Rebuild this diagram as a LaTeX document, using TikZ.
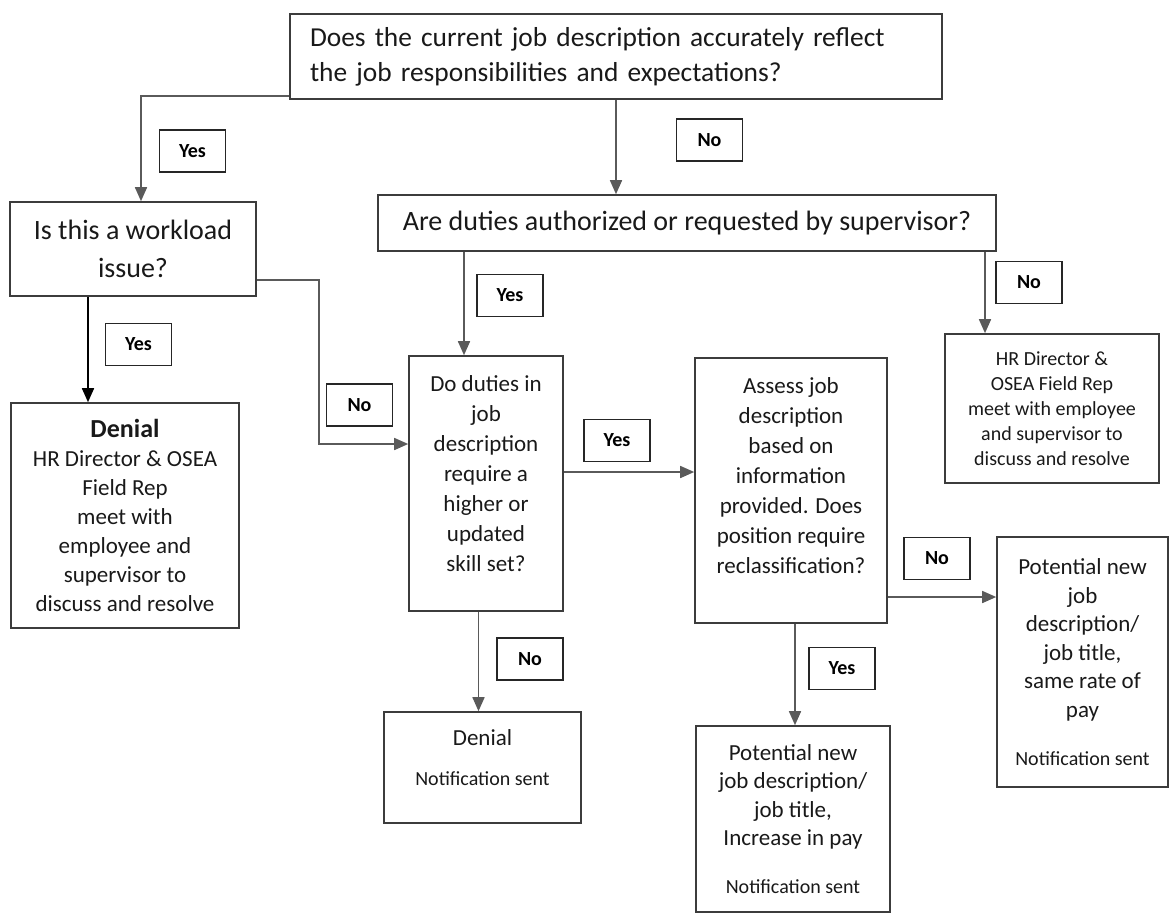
\documentclass[tikz,border=0pt]{standalone}
\usepackage{fontspec}
\setmainfont{Carlito}
\usetikzlibrary{arrows.meta}
\definecolor{framegray}{HTML}{3C3C3C}
\definecolor{wiregray}{HTML}{5A5A5A}

\begin{document}
\begin{tikzpicture}[
  x=0.5pt,y=-0.5pt,
  box/.style={draw=framegray,line width=0.8pt,align=center,inner sep=2pt,text=black!90},
  tag/.style={draw=black!85,line width=0.7pt,minimum width=33pt,minimum height=21pt,inner sep=0pt,font=\fontsize{10}{12}\selectfont\bfseries},
  arrow/.style={draw=wiregray,line width=0.8pt,-{Triangle[length=7pt,width=6pt]}},
  bigtext/.style={font=\fontsize{14}{17.5}\selectfont},
  midtext/.style={font=\fontsize{11.5}{15}\selectfont},
  smalltext/.style={font=\fontsize{10}{12.5}\selectfont}
]
\useasboundingbox (0,0) rectangle (1173,917);

% questions
\node[box,font=\fontsize{13.7}{17.5}\selectfont,align=left,text width=306pt,inner xsep=10pt,minimum height=42.5pt] (q1) at (616,56.5) {Does the current job description accurately reflect\\the job responsibilities and expectations?};
\node[box,bigtext,minimum width=309pt,minimum height=28pt] (q2) at (687,223) {Are duties authorized or requested by supervisor?};
\node[box,font=\fontsize{14}{19}\selectfont,minimum width=123pt,minimum height=47pt] (q3) at (133,249) {Is this a workload\\issue?};
\node[box,font=\fontsize{11.5}{14.5}\selectfont,minimum width=114pt,minimum height=112.5pt] (q4) at (125,515.5) {{\fontsize{13}{15}\selectfont\bfseries Denial}\\HR Director \& OSEA\\Field Rep\\meet with\\employee and\\supervisor to\\discuss and resolve};
\node[box,smalltext,minimum width=107pt,minimum height=74.5pt] (q5) at (1052,408.5) {HR Director \&\\OSEA Field Rep\\meet with employee\\and supervisor to\\discuss and resolve};
\node[box,midtext,minimum width=77pt,minimum height=127.5pt] (q6) at (486,483.5) {Do duties in\\job\\description\\require a\\higher or\\updated\\skill set?\\[-5pt]\mbox{}};
\node[box,midtext,minimum width=96pt,minimum height=132.5pt] (q7) at (791,490.5) {Assess job\\description\\based on\\information\\provided. Does\\position require\\reclassification?\\ \mbox{}};

% outcomes
\node[box,font=\fontsize{11.5}{14.25}\selectfont,minimum width=85.5pt,minimum height=125pt] (q8) at (1082.5,662) {Potential new\\job\\description/\\job title,\\same rate of\\pay\\[9.75pt]{\fontsize{10}{12}\selectfont Notification sent}};
\node[box,font=\fontsize{10}{12}\selectfont,minimum width=98.5pt,minimum height=55.5pt] (q9) at (482.5,767.5) {{\fontsize{11.5}{14}\selectfont Denial}\\[8pt]Notification sent\\[-2.5pt]\mbox{}};
\node[box,font=\fontsize{11.5}{14.25}\selectfont,minimum width=97pt,minimum height=93pt] (q10) at (793,819) {Potential new\\job description/\\job title,\\Increase in pay\\[9.75pt]{\fontsize{10}{12}\selectfont Notification sent}};

% yes / no tags
\node[tag] (y1) at (192.5,151) {Yes};
\node[tag] (n1) at (709.5,140) {No};
\node[tag] (y2) at (510,295.5) {Yes};
\node[tag] (n2) at (1029,282.5) {No};
\node[tag] (y3) at (138.5,344.5) {Yes};
\node[tag] (n3) at (359.5,405) {No};
\node[tag] (y4) at (617,440.5) {Yes};
\node[tag] (n4) at (937,558.5) {No};
\node[tag] (n5) at (530,659) {No};
\node[tag] (y5) at (842,668.5) {Yes};

% connectors
\draw[arrow] ([yshift=2pt]q1.south west) -| ([xshift=4pt]q3.north);
\draw[arrow] (q1.south) -- (q1.south |- q2.north);
\draw[arrow] ([xshift=-11pt]q6.north |- q2.south) -- ([xshift=-11pt]q6.north);
\draw[arrow] ([xshift=-33.5pt]q5.north |- q2.south) -- ([xshift=-33.5pt]q5.north);
\draw[arrow,draw=black] ([xshift=-18.5pt]q4.north |- q3.south) -- ([xshift=-18.5pt]q4.north);
\draw[arrow] ([yshift=-15.5pt]q3.east) -- ++(31pt,0) |- ([yshift=19.75pt]q6.west);
\draw[arrow] ([yshift=5.75pt]q6.east) -- ([yshift=5.75pt]q6.east -| q7.west);
\draw[arrow] ([xshift=-2pt]q9.north |- q6.south) -- ([xshift=-2pt]q9.north);
\draw[arrow] ([xshift=1pt]q10.north |- q7.south) -- ([xshift=1pt]q10.north);
\draw[arrow] ([yshift=-53.25pt]q7.east) -- ([yshift=-53.25pt]q7.east -| q8.west);
\end{tikzpicture}
\end{document}
